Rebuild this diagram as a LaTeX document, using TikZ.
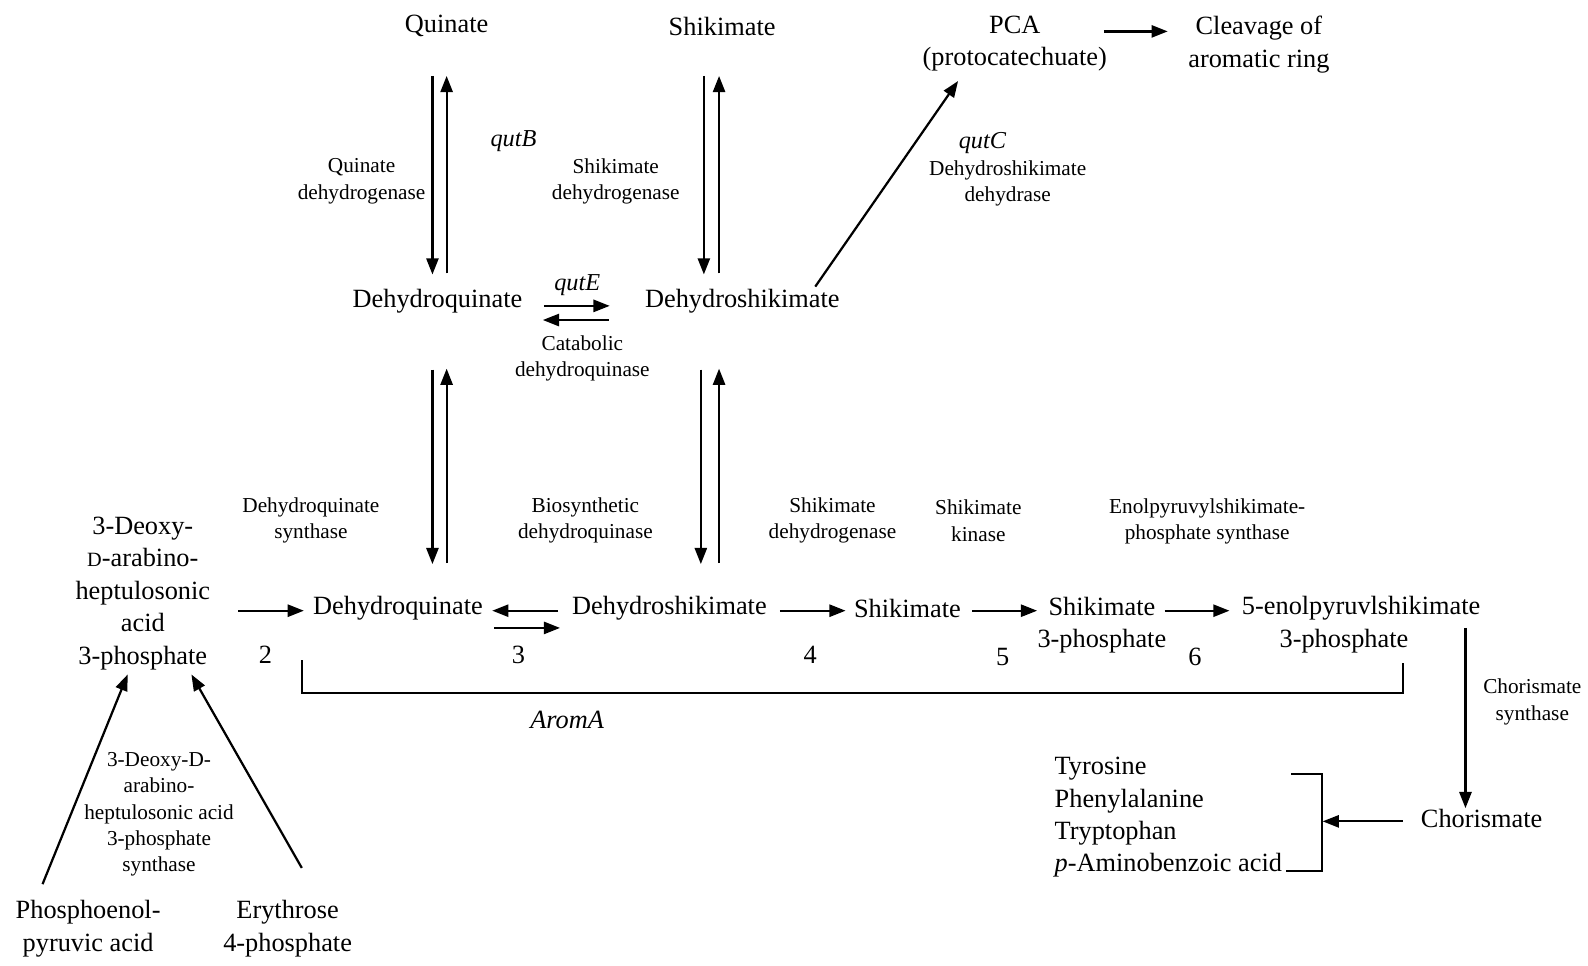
\documentclass[tikz,border=0pt]{standalone}
\usepackage{fontspec}
\setmainfont{Liberation Serif}
\usetikzlibrary{arrows.meta}
\begin{document}
\begin{tikzpicture}[x=0.5pt,y=-0.5pt,
  big/.style={font=\fontsize{13}{16}\selectfont, inner sep=0pt, align=center},
  sm/.style={font=\fontsize{10.5}{13}\selectfont, inner sep=0pt, align=center},
  arr/.style={line width=1.1pt, -{Triangle[length=8pt,width=6pt]}},
  ln/.style={line width=1.1pt}]
\useasboundingbox (0,0) rectangle (1568,953);
% ---- top row
\node[big] (quin) at (441,26) {Quinate};
\node[big] (shik) at (713,26) {Shikimate};
\node[big] (pca) at (1002,43) {PCA\\(protocatechuate)};
\node[big] (cleav) at (1243,44) {Cleavage of\\aromatic ring};
\coordinate (pcaE) at (1090,31);
\coordinate (clW) at (1153,31);
\draw[arr] (pcaE) -- (clW);
% ---- catabolic middle row
\node[big] (dq1) at (432,297) {Dehydroquinate};
\node[big] (ds1) at (733,297) {Dehydroshikimate};
% quinate <-> dehydroquinate
\coordinate (q1a) at (427,75); \coordinate (q1b) at (427,271);
\coordinate (q2a) at (441,270); \coordinate (q2b) at (441,75);
\draw[arr] (q1a) -- (q1b);
\draw[arr] (q2a) -- (q2b);
% shikimate <-> dehydroshikimate
\coordinate (s1a) at (695,75); \coordinate (s1b) at (695,271);
\coordinate (s2a) at (710,270); \coordinate (s2b) at (710,75);
\draw[arr] (s1a) -- (s1b);
\draw[arr] (s2a) -- (s2b);
\node[sm] (qdh) at (357,179) {Quinate\\dehydrogenase};
\node[sm, font=\fontsize{12}{14}\selectfont\itshape] (qutB) at (507,139) {qutB};
\node[sm] (sdh1) at (608,179) {Shikimate\\dehydrogenase};
% qutE
\node[sm, font=\fontsize{12}{14}\selectfont\itshape] (qutE) at (570,282) {qutE};
\coordinate (e1a) at (537,302); \coordinate (e1b) at (602,302);
\coordinate (e2a) at (601,316); \coordinate (e2b) at (536,316);
\draw[arr] (e1a) -- (e1b);
\draw[arr] (e2a) -- (e2b);
\node[sm] (catdq) at (575,354) {Catabolic\\dehydroquinase};
% to PCA
\coordinate (dsNE) at (805,283);
\coordinate (pcaSW) at (946,80);
\draw[arr] (dsNE) -- (pcaSW);
\node[sm, font=\fontsize{12}{14}\selectfont\itshape] (qutC) at (970,141) {qutC};
\node[sm] (dsdh) at (995,181) {Dehydroshikimate\\dehydrase};
% ---- lower verticals
\coordinate (v1a) at (427,365); \coordinate (v1b) at (427,557);
\coordinate (v2a) at (441,556); \coordinate (v2b) at (441,364);
\draw[arr] (v1a) -- (v1b);
\draw[arr] (v2a) -- (v2b);
\coordinate (w1a) at (692,365); \coordinate (w1b) at (692,557);
\coordinate (w2a) at (710,556); \coordinate (w2b) at (710,364);
\draw[arr] (w1a) -- (w1b);
\draw[arr] (w2a) -- (w2b);
% ---- enzyme labels bottom
\node[sm] (dqs) at (307,514) {Dehydroquinate\\synthase};
\node[sm] (bdq) at (578,514) {Biosynthetic\\dehydroquinase};
\node[sm] (sdh2) at (822,514) {Shikimate\\dehydrogenase};
\node[sm] (sk) at (966,514) {Shikimate\\kinase};
\node[sm] (epsps) at (1192,515) {Enolpyruvylshikimate-\\phosphate synthase};
% ---- biosynthetic row
\node[big] (dahp) at (141,586) {3-Deoxy-\\{\fontsize{10}{12}\selectfont D}-arabino-\\heptulosonic\\acid\\3-phosphate};
\node[big] (dq2) at (393,601) {Dehydroquinate};
\node[big] (ds2) at (661,601) {Dehydroshikimate};
\node[big] (sh2) at (896,601) {Shikimate};
\node[big] (s3p) at (1088,617) {Shikimate\\3-phosphate};
\node[big] (eps) at (1344,601) {5-enolpyruvlshikimate};
\node[big] (eps2) at (1327,633) {3-phosphate};
\coordinate (a2a) at (235,603); \coordinate (a2b) at (300,603);
\draw[arr] (a2a) -- (a2b);
\coordinate (a3a) at (551,603); \coordinate (a3b) at (486,603);
\coordinate (a3c) at (488,620); \coordinate (a3d) at (553,620);
\draw[arr] (a3a) -- (a3b);
\draw[arr] (a3c) -- (a3d);
\coordinate (a4a) at (770,603); \coordinate (a4b) at (835,603);
\draw[arr] (a4a) -- (a4b);
\coordinate (a5a) at (960,603); \coordinate (a5b) at (1024,603);
\draw[arr] (a5a) -- (a5b);
\coordinate (a6a) at (1150,603); \coordinate (a6b) at (1214,603);
\draw[arr] (a6a) -- (a6b);
\node[big] (n2) at (262,647) {2};
\node[big] (n3) at (512,647) {3};
\node[big] (n4) at (800,647) {4};
\node[big] (n5) at (990,649) {5};
\node[big] (n6) at (1180,649) {6};
% AromA bracket
\coordinate (bk1) at (298,652); \coordinate (bk2) at (1385,655);
\draw[ln] (bk1) -- (298,684) -| (bk2);
\node[big, font=\fontsize{13}{16}\selectfont\itshape] (aroma) at (560,711) {AromA};
% chorismate
\node[big] (chor) at (1463,808) {Chorismate};
\coordinate (cs1) at (1447,620); \coordinate (cs2) at (1447,798);
\draw[arr] (cs1) -- (cs2);
\node[sm] (chs) at (1513,693) {Chorismate\\synthase};
\node[big, align=left, anchor=west] (prod) at (1041,807) {Tyrosine\\Phenylalanine\\Tryptophan\\\textit{p}-Aminobenzoic acid};
\coordinate (pb1) at (1275,764); \coordinate (pb2) at (1270,860);
\draw[ln] (pb1) -- (1305,764) -- (1305,860) -- (pb2);
\coordinate (chW) at (1385,811); \coordinate (pbE) at (1306,811);
\draw[arr] (chW) -- (pbE);
% ---- bottom left
\node[sm] (dahps) at (157,804) {3-Deoxy-D-\\arabino-\\heptulosonic acid\\3-phosphate\\synthase};
\node[big] (pep) at (87,917) {Phosphoenol-\\pyruvic acid};
\node[big] (e4p) at (284,917) {Erythrose\\4-phosphate};
\coordinate (pepN) at (42,873); \coordinate (dahpA) at (126,666);
\coordinate (e4pN) at (298,857); \coordinate (dahpB) at (189,666);
\draw[arr] (pepN) -- (dahpA);
\draw[arr] (e4pN) -- (dahpB);
\end{tikzpicture}
\end{document}
